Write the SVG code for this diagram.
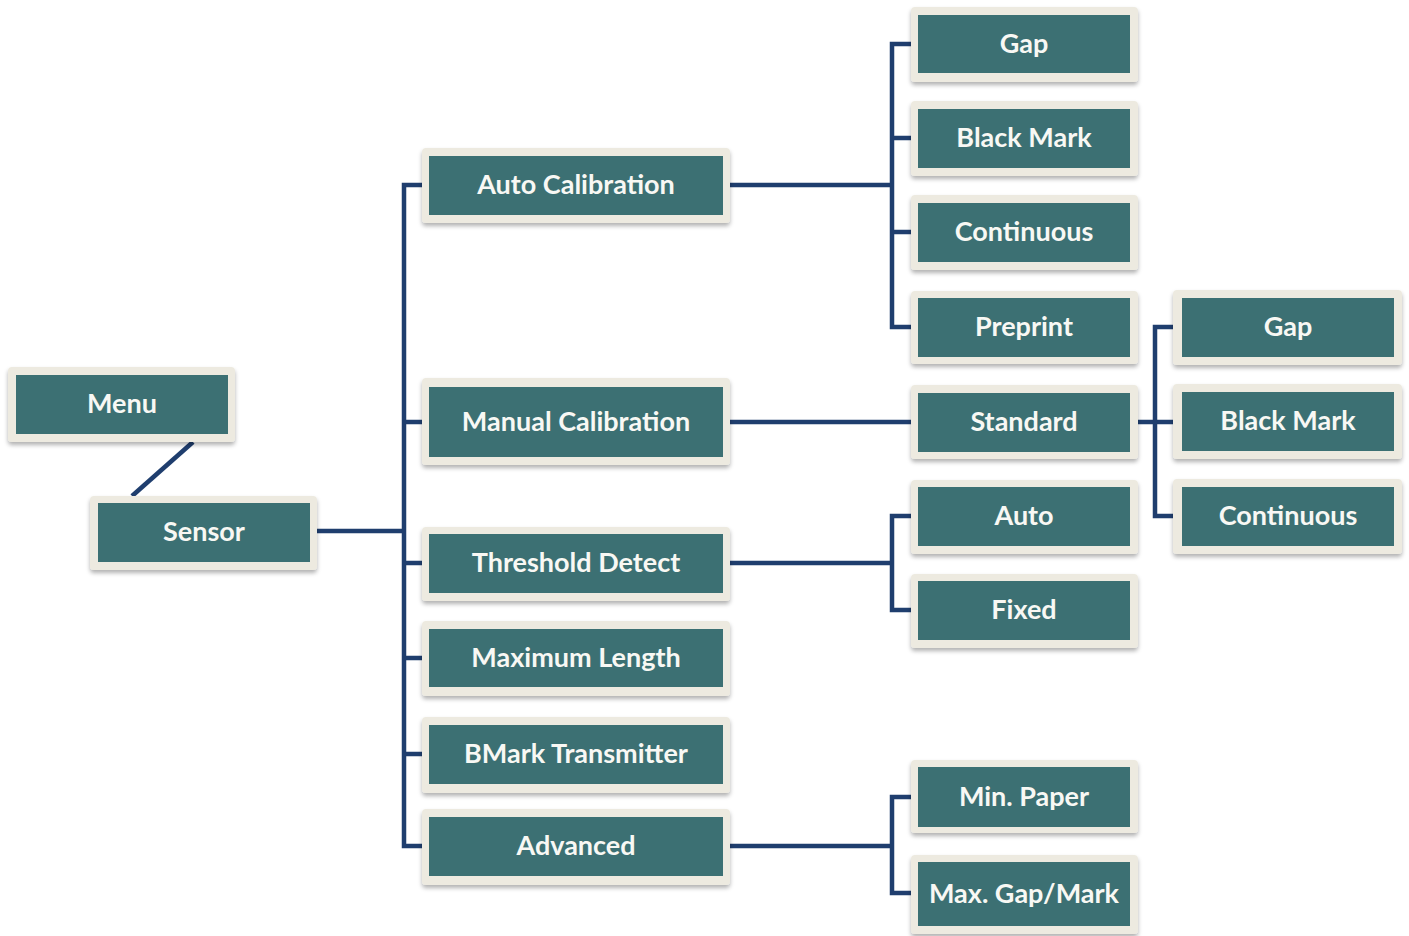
<svg xmlns="http://www.w3.org/2000/svg" width="1409" height="936" viewBox="0 0 1409 936">
<defs>
<filter id="sh" x="-10%" y="-20%" width="120%" height="150%">
<feDropShadow dx="0" dy="3" stdDeviation="2" flood-color="#000" flood-opacity="0.3"/>
</filter>
<style>
.o{fill:#EDEAE0;filter:url(#sh)}
.i{fill:#3C7073}
.t{font-family:Lato,"Open Sans","Liberation Sans",sans-serif;font-weight:bold;font-size:27px;fill:#F8F8F4;text-anchor:middle}
.c{fill:none;stroke:#1F3E6E;stroke-width:4.5}
</style>
</defs>
<rect width="1409" height="936" fill="#FFFFFF"/>
<g id="connectors">
<path class="c" d="M193,442 L132,496"/>
<path class="c" d="M317,531 H404"/>
<path class="c" d="M422,185 H404 V846 H422"/>
<path class="c" d="M404,422 H422 M404,563 H422 M404,658 H422 M404,754 H422"/>
<path class="c" d="M730,185 H892"/>
<path class="c" d="M911,44 H892 V327 H911 M892,138 H911 M892,232 H911"/>
<path class="c" d="M730,422 H911"/>
<path class="c" d="M1137,422 H1173"/>
<path class="c" d="M1173,327 H1155 V516 H1173"/>
<path class="c" d="M730,563 H892"/>
<path class="c" d="M911,516 H892 V610 H911"/>
<path class="c" d="M730,846 H892"/>
<path class="c" d="M911,797 H892 V893 H911"/>
</g>
<g id="menu"><rect class="o" x="8" y="367" width="227" height="75" rx="4"/><rect class="i" x="16" y="375" width="212" height="59"/><text class="t" x="122" y="413">Menu</text></g>
<g id="sensor"><rect class="o" x="90" y="496" width="227" height="74" rx="4"/><rect class="i" x="98" y="503" width="212" height="59"/><text class="t" x="204" y="541">Sensor</text></g>
<g id="auto-calibration"><rect class="o" x="422" y="148" width="308" height="75" rx="4"/><rect class="i" x="429" y="156" width="294" height="59"/><text class="t" x="576" y="194">Auto Calibration</text></g>
<g id="manual-calibration"><rect class="o" x="422" y="378" width="308" height="87" rx="4"/><rect class="i" x="429" y="387" width="294" height="70"/><text class="t" x="576" y="431">Manual Calibration</text></g>
<g id="threshold-detect"><rect class="o" x="422" y="527" width="308" height="74" rx="4"/><rect class="i" x="429" y="534" width="294" height="59"/><text class="t" x="576" y="572">Threshold Detect</text></g>
<g id="maximum-length"><rect class="o" x="422" y="621" width="308" height="75" rx="4"/><rect class="i" x="429" y="629" width="294" height="58"/><text class="t" x="576" y="667">Maximum Length</text></g>
<g id="bmark-transmitter"><rect class="o" x="422" y="717" width="308" height="76" rx="4"/><rect class="i" x="429" y="725" width="294" height="59"/><text class="t" x="576" y="763">BMark Transmitter</text></g>
<g id="advanced"><rect class="o" x="422" y="809" width="308" height="76" rx="4"/><rect class="i" x="429" y="817" width="294" height="59"/><text class="t" x="576" y="855">Advanced</text></g>
<g id="ac-gap"><rect class="o" x="911" y="7" width="227" height="75" rx="4"/><rect class="i" x="918" y="15" width="212" height="58"/><text class="t" x="1024" y="53">Gap</text></g>
<g id="ac-black-mark"><rect class="o" x="911" y="101" width="227" height="75" rx="4"/><rect class="i" x="918" y="109" width="212" height="59"/><text class="t" x="1024" y="147">Black Mark</text></g>
<g id="ac-continuous"><rect class="o" x="911" y="195" width="227" height="75" rx="4"/><rect class="i" x="918" y="203" width="212" height="59"/><text class="t" x="1024" y="241">Continuous</text></g>
<g id="ac-preprint"><rect class="o" x="911" y="291" width="227" height="73" rx="4"/><rect class="i" x="918" y="298" width="212" height="59"/><text class="t" x="1024" y="336">Preprint</text></g>
<g id="standard"><rect class="o" x="911" y="385" width="227" height="74" rx="4"/><rect class="i" x="918" y="393" width="212" height="59"/><text class="t" x="1024" y="431">Standard</text></g>
<g id="td-auto"><rect class="o" x="911" y="480" width="227" height="74" rx="4"/><rect class="i" x="918" y="487" width="212" height="59"/><text class="t" x="1024" y="525">Auto</text></g>
<g id="td-fixed"><rect class="o" x="911" y="574" width="227" height="74" rx="4"/><rect class="i" x="918" y="581" width="212" height="59"/><text class="t" x="1024" y="619">Fixed</text></g>
<g id="min-paper"><rect class="o" x="911" y="760" width="227" height="73" rx="4"/><rect class="i" x="918" y="767" width="212" height="60"/><text class="t" x="1024" y="806">Min. Paper</text></g>
<g id="max-gap-mark"><rect class="o" x="911" y="855" width="227" height="79" rx="4"/><rect class="i" x="918" y="862" width="212" height="64"/><text class="t" x="1024" y="903">Max. Gap/Mark</text></g>
<g id="std-gap"><rect class="o" x="1173" y="290" width="229" height="75" rx="4"/><rect class="i" x="1182" y="298" width="212" height="59"/><text class="t" x="1288" y="336">Gap</text></g>
<g id="std-black-mark"><rect class="o" x="1173" y="384" width="229" height="75" rx="4"/><rect class="i" x="1182" y="392" width="212" height="59"/><text class="t" x="1288" y="430">Black Mark</text></g>
<g id="std-continuous"><rect class="o" x="1173" y="479" width="229" height="75" rx="4"/><rect class="i" x="1182" y="487" width="212" height="59"/><text class="t" x="1288" y="525">Continuous</text></g>
</svg>
